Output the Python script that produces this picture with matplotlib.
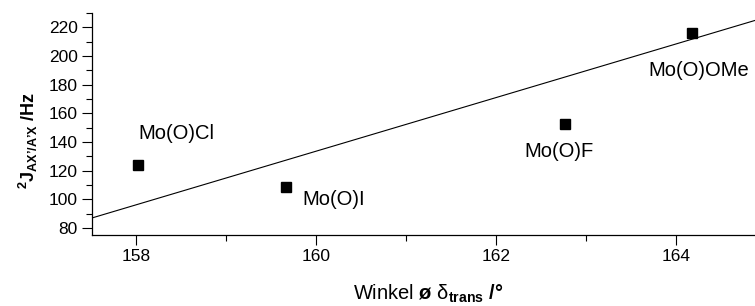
# chart of coupling constant vs. angle
import matplotlib
matplotlib.use("Agg")
import matplotlib.pyplot as plt
from matplotlib.ticker import MultipleLocator

# data
names = ["Mo(O)Cl", "Mo(O)I", "Mo(O)F", "Mo(O)OMe"]
winkel = [158.02, 159.66, 162.77, 164.18]
kopplung = [123.8, 108.7, 152.3, 216.0]

# fitted straight line (end points)
fit_x = [157.5, 165.0]
fit_y = [86.8, 227.0]

plt.rcParams["font.family"] = ["Liberation Sans", "DejaVu Sans"]
plt.rcParams["mathtext.fontset"] = "custom"
plt.rcParams["mathtext.rm"] = "Liberation Sans"
plt.rcParams["mathtext.it"] = "Liberation Sans:italic"
plt.rcParams["mathtext.bf"] = "Liberation Sans:bold"

fig = plt.figure(figsize=(7.55, 3.06), dpi=100)
ax = fig.add_axes([0.1212, 0.232, 0.8927, 0.7255])

# the fit line and the measured points
ax.plot(fit_x, fit_y, "k-", linewidth=0.8)
ax.plot(winkel, kopplung, "ks", markersize=6.5)

# labels next to the points (offset in points)
offsets = [(0, 23), (12, -9), (-29, -19.5), (-31.5, -27)]
for n, x, y, off in zip(names, winkel, kopplung, offsets):
    ax.annotate(n, (x, y), xytext=off, textcoords="offset points",
                fontsize=14.5, ha="left", va="center")

ax.set_xlim(157.5, 165)
ax.set_ylim(75, 230)
ax.xaxis.set_major_locator(MultipleLocator(2))
ax.xaxis.set_minor_locator(MultipleLocator(1))
ax.yaxis.set_major_locator(MultipleLocator(20))
ax.yaxis.set_minor_locator(MultipleLocator(10))
ax.tick_params(which="major", direction="out", length=7, width=0.8, labelsize=12.5, pad=3)
ax.tick_params(which="minor", direction="out", length=4, width=0.8)

for s in ["top", "right"]:
    ax.spines[s].set_visible(False)
for s in ["left", "bottom"]:
    ax.spines[s].set_linewidth(0.9)

# axis titles
fig.text(0.567, 0.04, "Winkel $\\mathbf{ø}$ δ$_{\\mathbf{trans}}$ $\\mathbf{/°}$",
         fontsize=14.5, ha="center", va="center")
fig.text(0.038, 0.5425, "$\\mathbf{{}^{2}J_{AX\u2019/A\u2019X}\\ /Hz}$",
         fontsize=13, ha="center", va="center", rotation=90)

plt.savefig("out.png", dpi=100)
